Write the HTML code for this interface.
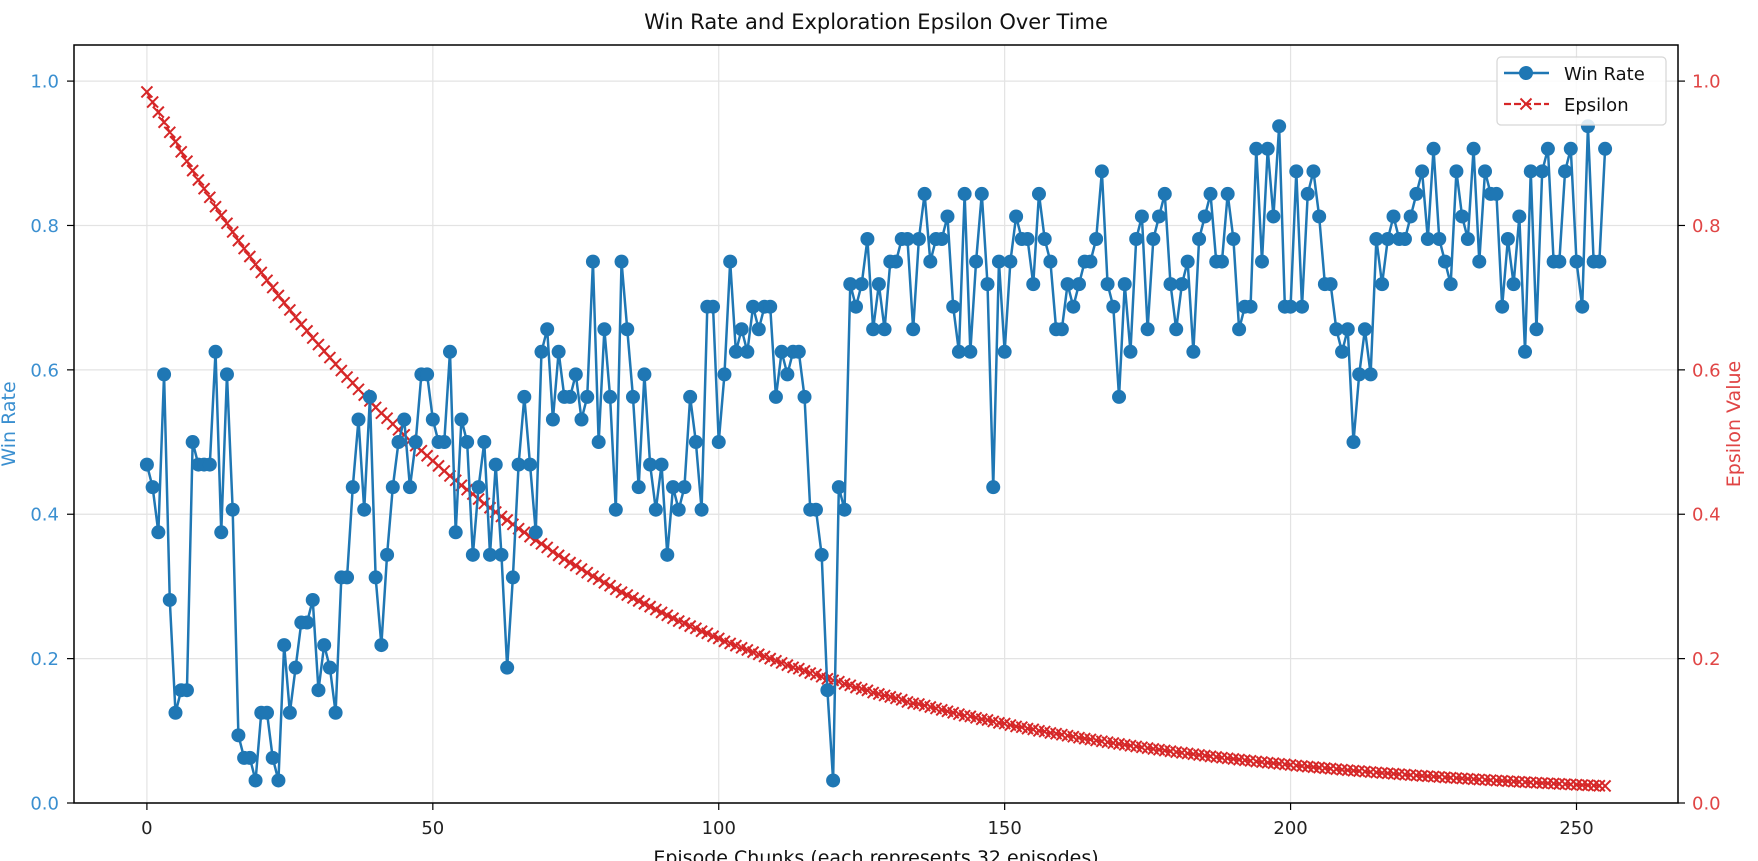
<!DOCTYPE html>
<html><head><meta charset="utf-8">
<style>
html,body{margin:0;padding:0;background:#fff;}
svg{display:block;font-family:"DejaVu Sans","Liberation Sans",sans-serif;}
</style></head>
<body>
<svg id="chart" width="1758" height="861" viewBox="0 0 1758 861" xmlns="http://www.w3.org/2000/svg">
<g id="grid"></g>
<g id="series"></g>
<g id="axes"></g>
</svg>
<script>
// wins out of 32 episodes per chunk
const winsPerChunk = [
15,14,12,19,9,4,5,5,16,15,
15,15,20,12,19,13,3,2,2,1,
4,4,2,1,7,4,6,8,8,9,
5,7,6,4,10,10,14,17,13,18,
10,7,11,14,16,17,14,16,19,19,
17,16,16,20,12,17,16,11,14,16,
11,15,11,6,10,15,18,15,12,20,
21,17,20,18,18,19,17,18,24,16,
21,18,13,24,21,18,14,19,15,13,
15,11,14,13,14,18,16,13,22,22,
16,19,24,20,21,20,22,21,22,22,
18,20,19,20,20,18,13,13,11,5,
1,14,13,23,22,23,25,21,23,21,
24,24,25,25,21,25,27,24,25,25,
26,22,20,27,20,24,27,23,14,24,
20,24,26,25,25,23,27,25,24,21,
21,23,22,23,24,24,25,28,23,22,
18,23,20,25,26,21,25,26,27,23,
21,23,24,20,25,26,27,24,24,27,
25,21,22,22,29,24,29,26,30,22,
22,28,22,27,28,26,23,23,21,20,
21,16,19,21,19,25,23,25,26,25,
25,26,27,28,25,29,25,24,23,28,
26,25,29,24,28,27,27,22,25,23,
26,20,28,21,28,29,24,24,28,29,
24,22,30,24,24,29];
const epsilonValues = [
.985,.971,.957,.943,.929,.916,.902,.889,.876,.863,
.851,.839,.826,.814,.803,.791,.779,.768,.757,.746,
.735,.724,.714,.703,.693,.683,.673,.663,.654,.644,
.635,.626,.617,.608,.599,.590,.582,.573,.565,.557,
.548,.540,.533,.525,.517,.510,.502,.495,.488,.481,
.474,.467,.460,.453,.447,.440,.434,.428,.421,.415,
.409,.403,.397,.392,.386,.380,.375,.369,.364,.359,
.354,.348,.343,.338,.333,.329,.324,.319,.314,.310,
.305,.301,.296,.292,.288,.284,.280,.276,.272,.268,
.264,.260,.256,.252,.249,.245,.242,.238,.235,.231,
.228,.224,.221,.218,.215,.212,.209,.206,.203,.200,
.197,.194,.191,.188,.186,.183,.180,.178,.175,.172,
.170,.168,.165,.163,.160,.158,.156,.153,.151,.149,
.147,.145,.143,.140,.138,.137,.135,.133,.131,.129,
.127,.125,.123,.121,.120,.118,.116,.115,.113,.111,
.110,.108,.106,.105,.103,.102,.100,.099,.097,.096,
.0946,.0932,.0919,.0905,.0892,.0880,.0867,.0855,.0842,.0830,
.0818,.0806,.0794,.0783,.0771,.0760,.0749,.0738,.0727,.0717,
.0706,.0696,.0686,.0676,.0666,.0656,.0646,.0637,.0628,.0619,
.0610,.0601,.0592,.0584,.0575,.0567,.0559,.0551,.0543,.0535,
.0527,.0519,.0512,.0504,.0497,.0490,.0483,.0476,.0469,.0462,
.0455,.0448,.0442,.0435,.0429,.0423,.0417,.0411,.0405,.0399,
.0393,.0387,.0382,.0376,.0371,.0366,.0361,.0355,.0350,.0345,
.0340,.0335,.0330,.0325,.0321,.0316,.0311,.0307,.0302,.0298,
.0293,.0289,.0285,.0281,.0276,.0273,.0269,.0265,.0261,.0257,
.0253,.0249,.0246,.0242,.0239,.0236];
const xTicks = [0,50,100,150,200,250];
const yTicks = [0.0,0.2,0.4,0.6,0.8,1.0];
const yTickLabels = ["0.0","0.2","0.4","0.6","0.8","1.0"];

const NS="http://www.w3.org/2000/svg";
const L=74,R=1678,T=45,B=803;
const xMin=-12.75,xMax=267.75,yMin=0,yMax=1.05;
const sx=v=>L+(v-xMin)/(xMax-xMin)*(R-L);
const sy=v=>B-(v-yMin)/(yMax-yMin)*(B-T);
function mk(tag,attrs,parent){const e=document.createElementNS(NS,tag);for(const k in attrs)e.setAttribute(k,attrs[k]);parent.appendChild(e);return e;}
const grid=document.getElementById('grid'),series=document.getElementById('series'),axes=document.getElementById('axes');

xTicks.forEach(t=>{const g=mk('line',{x1:sx(t),x2:sx(t),y1:T,y2:B,stroke:'#e3e3e3','stroke-width':1.2},grid);

});
yTicks.forEach(t=>{const g=mk('line',{x1:L,x2:R,y1:sy(t),y2:sy(t),stroke:'#e3e3e3','stroke-width':1.2},grid);

});

// epsilon
let ep=epsilonValues.map((v,i)=>sx(i).toFixed(2)+','+sy(v).toFixed(2)).join(' ');
const epl=mk('polyline',{points:ep,fill:'none',stroke:'#d62728','stroke-width':2.2,'stroke-dasharray':'7,3'},series);


epsilonValues.forEach((v,i)=>{const x=sx(i),y=sy(v),s=5.5;
const p=mk('path',{d:`M${x-s},${y-s}L${x+s},${y+s}M${x-s},${y+s}L${x+s},${y-s}`,stroke:'#d62728','stroke-width':2,fill:'none'},series);

});

// win rate
const winRate=winsPerChunk.map(w=>w/32);
let wp=winRate.map((v,i)=>sx(i).toFixed(2)+','+sy(v).toFixed(2)).join(' ');
const wl=mk('polyline',{points:wp,fill:'none',stroke:'#1f77b4','stroke-width':2.5,'stroke-linejoin':'round'},series);


winRate.forEach((v,i)=>{const c=mk('circle',{cx:sx(i),cy:sy(v),r:7,fill:'#1f77b4'},series);

});

// frame
const fr=mk('rect',{x:L,y:T,width:R-L,height:B-T,fill:'none',stroke:'#000','stroke-width':1.5},axes);



xTicks.forEach(t=>{const tk=mk('line',{x1:sx(t),x2:sx(t),y1:B,y2:B+7,stroke:'#000','stroke-width':1.2},axes);


const tx=mk('text',{x:sx(t),y:B+31,'text-anchor':'middle','font-size':18,fill:'#222'},axes);tx.textContent=t;

});
yTicks.forEach((t,i)=>{
const a=mk('line',{x1:L-7,x2:L,y1:sy(t),y2:sy(t),stroke:'#000','stroke-width':1.2},axes);


const la=mk('text',{x:L-15,y:sy(t)+6.5,'text-anchor':'end','font-size':18,fill:'#3a8fd0'},axes);la.textContent=yTickLabels[i];


const b=mk('line',{x1:R,x2:R+7,y1:sy(t),y2:sy(t),stroke:'#000','stroke-width':1.2},axes);


const lb=mk('text',{x:R+14,y:sy(t)+6.5,'text-anchor':'start','font-size':18,fill:'#e04545'},axes);lb.textContent=yTickLabels[i];

});
</script>
<svg style="position:absolute;left:0;top:0" width="1758" height="861">
<text x="876" y="29" text-anchor="middle" font-size="21" fill="#111" font-family="DejaVu Sans, sans-serif">Win Rate and Exploration Epsilon Over Time</text>
<text x="876" y="864" text-anchor="middle" font-size="19" fill="#111" font-family="DejaVu Sans, sans-serif">Episode Chunks (each represents 32 episodes)</text>
<text transform="translate(15,424) rotate(-90)" text-anchor="middle" font-size="19" fill="#3a8fd0" font-family="DejaVu Sans, sans-serif">Win Rate</text>
<text transform="translate(1740,424) rotate(-90)" text-anchor="middle" font-size="19" fill="#e04545" font-family="DejaVu Sans, sans-serif">Epsilon Value</text>
<g>
<rect x="1497" y="57" width="169" height="68" rx="4" fill="#fff" fill-opacity="0.85" stroke="#d6d6d6" stroke-width="1.2"/>
<g>
<line x1="1504" x2="1549" y1="73" y2="73" stroke="#1f77b4" stroke-width="2.5"/>
<circle cx="1526" cy="73" r="7" fill="#1f77b4"/>
<text x="1564" y="80" font-size="18" fill="#111" font-family="DejaVu Sans, sans-serif">Win Rate</text>
</g>
<g>
<line x1="1504" x2="1549" y1="104" y2="104" stroke="#d62728" stroke-width="2.2" stroke-dasharray="7,3"/>
<path d="M1520.5,98.5L1531.5,109.5M1520.5,109.5L1531.5,98.5" stroke="#d62728" stroke-width="2"/>
<text x="1564" y="111" font-size="18" fill="#111" font-family="DejaVu Sans, sans-serif">Epsilon</text>
</g>
</g>
</svg>
</body></html>
